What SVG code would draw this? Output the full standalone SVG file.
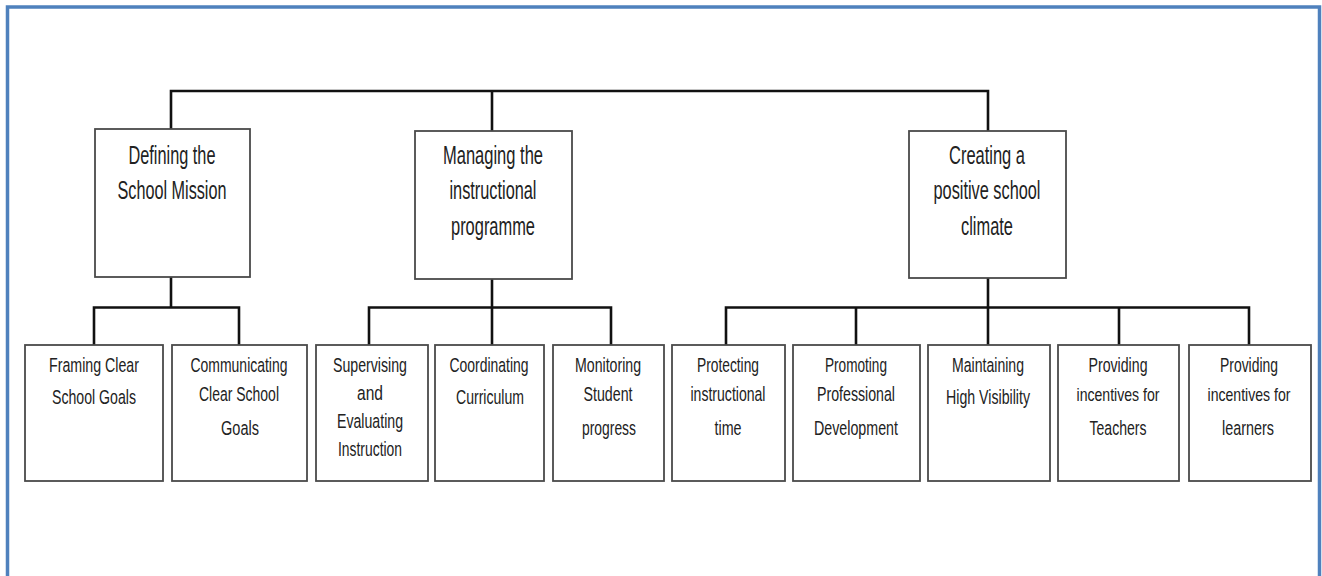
<svg xmlns="http://www.w3.org/2000/svg" width="1322" height="576" viewBox="0 0 1322 576">
<style>
.frame{fill:#fff;stroke:#4f81bd;stroke-width:3.5}
.box{fill:#fff;stroke:#4a4a4a;stroke-width:1.8}
.conn{fill:none;stroke:#111;stroke-width:2.6}
.t1{font-family:"Liberation Sans",Arial,sans-serif;font-size:25px;fill:#222;text-anchor:middle}
.t2{font-family:"Liberation Sans",Arial,sans-serif;font-size:20.5px;fill:#222;text-anchor:middle}
.t2s{font-size:19px}
</style>
<rect width="1322" height="576" fill="#fff"/>
<rect class="frame" x="7.5" y="7" width="1312" height="575"/>
<g id="connectors">
<polyline class="conn" points="171,129 171,91 988,91 988,131"/>
<line class="conn" x1="492" y1="91" x2="492" y2="131"/>
<polyline class="conn" points="94,345 94,307.5 239,307.5 239,345"/>
<line class="conn" x1="171" y1="277" x2="171" y2="307.5"/>
<polyline class="conn" points="369,345 369,307.5 611,307.5 611,345"/>
<line class="conn" x1="492" y1="279" x2="492" y2="345"/>
<polyline class="conn" points="726,345 726,307.5 1249,307.5 1249,345"/>
<line class="conn" x1="988" y1="278" x2="988" y2="345"/>
<line class="conn" x1="856" y1="307.5" x2="856" y2="345"/>
<line class="conn" x1="1119" y1="307.5" x2="1119" y2="345"/>
</g>
<g id="n-mission">
<rect class="box" x="95" y="129" width="155" height="148"/>
<text class="t1" x="172" y="164" textLength="87" lengthAdjust="spacingAndGlyphs">Defining the</text>
<text class="t1" x="172" y="199" textLength="109" lengthAdjust="spacingAndGlyphs">School Mission</text>
</g>
<g id="n-programme">
<rect class="box" x="415" y="131" width="157" height="148"/>
<text class="t1" x="493" y="164" textLength="100" lengthAdjust="spacingAndGlyphs">Managing the</text>
<text class="t1" x="493" y="199" textLength="87" lengthAdjust="spacingAndGlyphs">instructional</text>
<text class="t1" x="493" y="235" textLength="84" lengthAdjust="spacingAndGlyphs">programme</text>
</g>
<g id="n-climate">
<rect class="box" x="909" y="131" width="157" height="147"/>
<text class="t1" x="987" y="164" textLength="76" lengthAdjust="spacingAndGlyphs">Creating a</text>
<text class="t1" x="987" y="199" textLength="107" lengthAdjust="spacingAndGlyphs">positive school</text>
<text class="t1" x="987" y="235" textLength="52" lengthAdjust="spacingAndGlyphs">climate</text>
</g>
<g id="n-framing">
<rect class="box" x="25" y="345" width="138" height="136"/>
<text class="t2" x="94" y="372" textLength="90" lengthAdjust="spacingAndGlyphs">Framing Clear</text>
<text class="t2" x="94" y="404" textLength="84" lengthAdjust="spacingAndGlyphs">School Goals</text>
</g>
<g id="n-communicating">
<rect class="box" x="172" y="345" width="135" height="136"/>
<text class="t2" x="239" y="372" textLength="97" lengthAdjust="spacingAndGlyphs">Communicating</text>
<text class="t2" x="239" y="401" textLength="80" lengthAdjust="spacingAndGlyphs">Clear School</text>
<text class="t2" x="240" y="435" textLength="38" lengthAdjust="spacingAndGlyphs">Goals</text>
</g>
<g id="n-supervising">
<rect class="box" x="316" y="345" width="112" height="136"/>
<text class="t2" x="370" y="372" textLength="74" lengthAdjust="spacingAndGlyphs">Supervising</text>
<text class="t2" x="370" y="400" textLength="26" lengthAdjust="spacingAndGlyphs">and</text>
<text class="t2" x="370" y="428" textLength="66" lengthAdjust="spacingAndGlyphs">Evaluating</text>
<text class="t2" x="370" y="456" textLength="64" lengthAdjust="spacingAndGlyphs">Instruction</text>
</g>
<g id="n-coordinating">
<rect class="box" x="435" y="345" width="109" height="136"/>
<text class="t2" x="489" y="372" textLength="79" lengthAdjust="spacingAndGlyphs">Coordinating</text>
<text class="t2" x="490" y="404" textLength="68" lengthAdjust="spacingAndGlyphs">Curriculum</text>
</g>
<g id="n-monitoring">
<rect class="box" x="553" y="345" width="111" height="136"/>
<text class="t2" x="608" y="372" textLength="66" lengthAdjust="spacingAndGlyphs">Monitoring</text>
<text class="t2" x="608" y="401" textLength="49" lengthAdjust="spacingAndGlyphs">Student</text>
<text class="t2" x="609" y="435" textLength="54" lengthAdjust="spacingAndGlyphs">progress</text>
</g>
<g id="n-protecting">
<rect class="box" x="672" y="345" width="113" height="136"/>
<text class="t2" x="728" y="372" textLength="62" lengthAdjust="spacingAndGlyphs">Protecting</text>
<text class="t2" x="728" y="401" textLength="75" lengthAdjust="spacingAndGlyphs">instructional</text>
<text class="t2" x="728" y="435" textLength="27" lengthAdjust="spacingAndGlyphs">time</text>
</g>
<g id="n-promoting">
<rect class="box" x="793" y="345" width="127" height="136"/>
<text class="t2" x="856" y="372" textLength="62" lengthAdjust="spacingAndGlyphs">Promoting</text>
<text class="t2" x="856" y="401" textLength="78" lengthAdjust="spacingAndGlyphs">Professional</text>
<text class="t2" x="856" y="435" textLength="84" lengthAdjust="spacingAndGlyphs">Development</text>
</g>
<g id="n-maintaining">
<rect class="box" x="928" y="345" width="122" height="136"/>
<text class="t2" x="988" y="372" textLength="72" lengthAdjust="spacingAndGlyphs">Maintaining</text>
<text class="t2" x="988" y="404" textLength="84" lengthAdjust="spacingAndGlyphs">High Visibility</text>
</g>
<g id="n-teachers">
<rect class="box" x="1058" y="345" width="121" height="136"/>
<text class="t2" x="1118" y="372" textLength="59" lengthAdjust="spacingAndGlyphs">Providing</text>
<text class="t2 t2s" x="1118" y="401" textLength="83" lengthAdjust="spacingAndGlyphs">incentives for</text>
<text class="t2" x="1118" y="435" textLength="57" lengthAdjust="spacingAndGlyphs">Teachers</text>
</g>
<g id="n-learners">
<rect class="box" x="1189" y="345" width="122" height="136"/>
<text class="t2" x="1249" y="372" textLength="58" lengthAdjust="spacingAndGlyphs">Providing</text>
<text class="t2 t2s" x="1249" y="401" textLength="83" lengthAdjust="spacingAndGlyphs">incentives for</text>
<text class="t2" x="1248" y="435" textLength="52" lengthAdjust="spacingAndGlyphs">learners</text>
</g>
</svg>
